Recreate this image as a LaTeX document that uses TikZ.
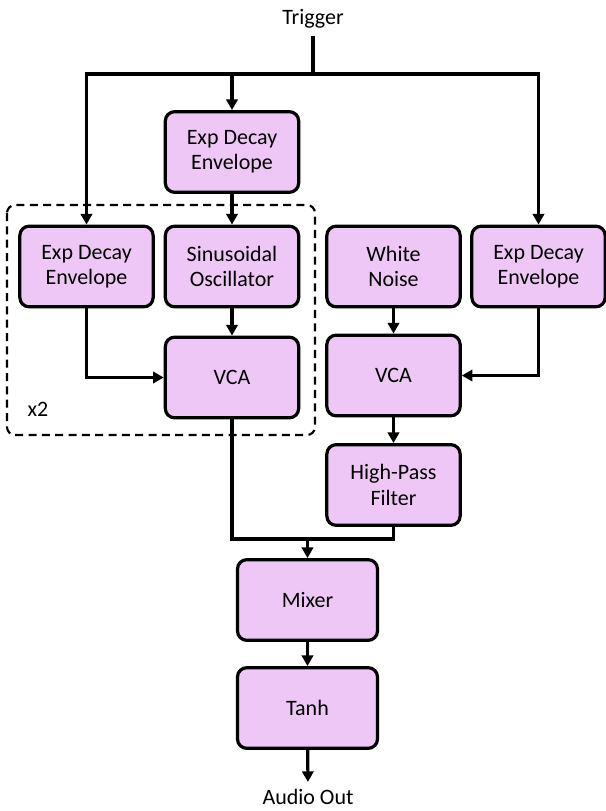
\documentclass[tikz,border=0pt]{standalone}
\usepackage{fontspec}
\setmainfont{Carlito}
\usepackage{xcolor}
\usetikzlibrary{arrows.meta, positioning}
\definecolor{blockpink}{RGB}{239,199,247}

\begin{document}
\begin{tikzpicture}[x=0.75pt, y=-0.75pt, line width=2.4pt,
        block/.style={draw=black, fill=blockpink, rounded corners=7pt, align=center,
            minimum width=100pt, minimum height=60.5pt, inner sep=0pt,
            font=\fontsize{16.5}{19}\selectfont},
        label/.style={inner sep=0pt, font=\fontsize{16.5}{19}\selectfont},
        arr/.style={-{Triangle[length=8pt, width=8.5pt]}},
        arrboth/.style={{Triangle[length=8pt, width=8.5pt]}-{Triangle[length=8pt, width=8.5pt]}}]
    \useasboundingbox (0,0) rectangle (606,811);
    % inputs and outputs
    \node[label, outer sep=6pt] (trig) at (313,19) {Trigger};
    \node[label, outer sep=5.5pt] (out) at (308,797) {Audio Out};
    % blocks
    \node[block] (topenv) at (232,152)   {Exp Decay\\Envelope};
    \node[block] (env1)   at (86.5,266.5) {Exp Decay\\Envelope};
    \node[block] (osc)    at (232,266.5) {Sinusoidal\\Oscillator};
    \node[block] (vca1)   at (232,377.5) {VCA};
    \node[block] (noise)  at (393.5,266.5) {White\\Noise};
    \node[block] (env2)   at (538.5,266.5) {Exp Decay\\Envelope};
    \node[block] (vca2)   at (393.5,375.5) {VCA};
    \node[block] (hpf)    at (393.5,485) {High-Pass\\Filter};
    \node[block, minimum width=105pt] (mixer) at (307.5,600) {Mixer};
    \node[block, minimum width=105pt] (tanh)  at (307.5,708) {Tanh};
    % repeated section
    \draw[line width=1.6pt, dash pattern=on 6pt off 4pt, rounded corners=6pt]
        (7,205) rectangle (315,435);
    \node[label] (rep) at (38,409) {x2};
    % trigger bus
    \coordinate (tj) at (313,74);
    \draw (trig.south) -- (tj);
    \draw[arrboth] (env1.north) |- (tj) -| (env2.north);
    \draw[arr] (tj -| topenv) -- (topenv);
    % signal paths
    \draw[arr] (topenv) -- (osc);
    \draw[arr] (osc) -- (vca1);
    \draw[arr] (env1) |- (vca1);
    \draw[arr] (noise) -- (vca2);
    \draw[arr] (env2) |- (vca2);
    \draw[arr] (vca2) -- (hpf);
    \coordinate (mj) at (307.5,539);
    \draw (vca1.south) |- (mj) -| (hpf.south);
    \draw[arr] (mj) -- (mixer);
    \draw[arr] (mixer) -- (tanh);
    \draw[arr] (tanh) -- (out);
\end{tikzpicture}
\end{document}
